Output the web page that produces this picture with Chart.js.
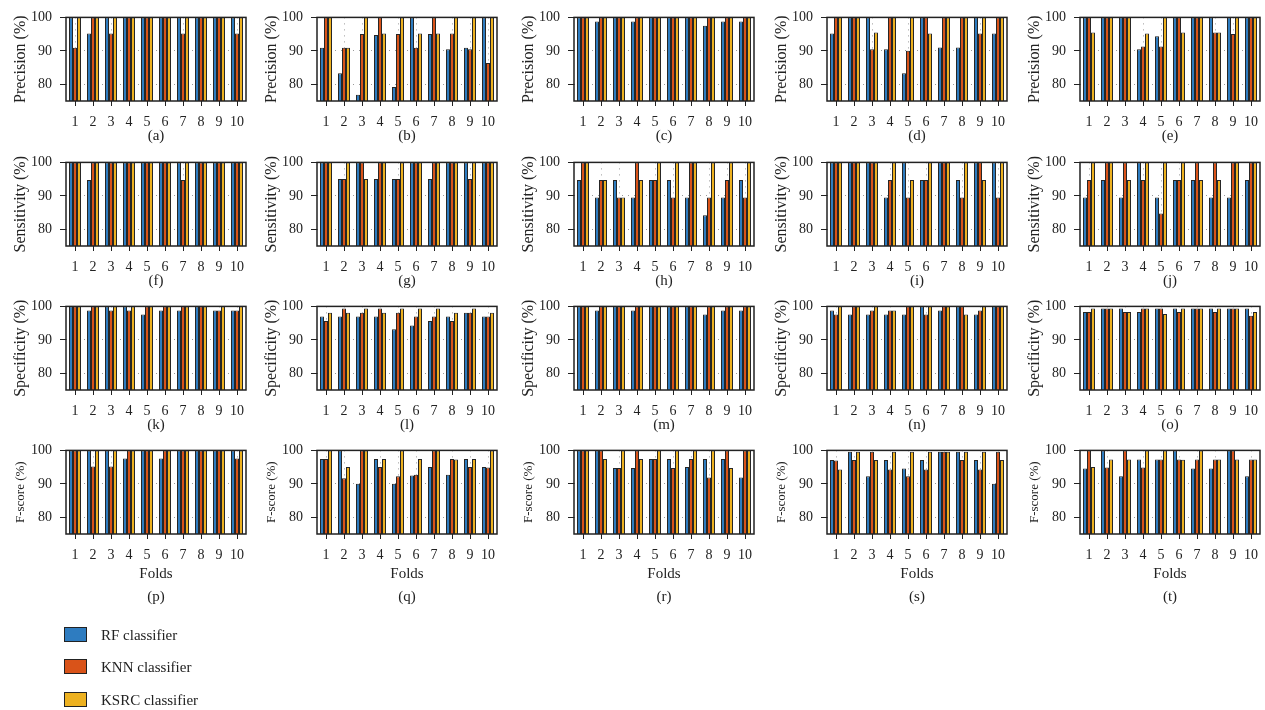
<!DOCTYPE html>
<html>
<head>
<meta charset="utf-8">
<script src="https://cdn.jsdelivr.net/npm/chart.js@4.4.1/dist/chart.umd.min.js"></script>
<style>
  body { margin: 0; background: #fff; width: 1265px; height: 710px; overflow: hidden; position: relative;
         font-family: 'Liberation Serif', 'Times New Roman', serif; }
  canvas.panel { position: absolute; }
  .legend-item { position: absolute; left: 64px; height: 18px; width: 220px; }
  .swatch { position: absolute; left: 0; top: 1px; width: 21px; height: 13px; border: 1.5px solid #222; }
  .legend-item span { position: absolute; left: 37px; top: 0; font-size: 15px; line-height: 18px; color: #222; white-space: nowrap; }
</style>
</head>
<body>
<script>
// Categories and series
const folds = ['1', '2', '3', '4', '5', '6', '7', '8', '9', '10'];
const classifiers = ['RF classifier', 'KNN classifier', 'KSRC classifier'];
const classifierColors = ['#2e7cc0', '#d95319', '#edb120'];
const metricTitles = ['Precision (%)', 'Sensitivity (%)', 'Specificity (%)', 'F-score (%)'];
const panelLetters = [
    ['(a)', '(b)', '(c)', '(d)', '(e)'],
    ['(f)', '(g)', '(h)', '(i)', '(j)'],
    ['(k)', '(l)', '(m)', '(n)', '(o)'],
    ['(p)', '(q)', '(r)', '(s)', '(t)']
];
const yTicks = [80, 90, 100];

// Precision, one row per column of panels
const precisionRF = [
    [100, 95.2, 100, 100, 100, 100, 100, 100, 100, 100],
    [90.9, 83.3, 76.9, 94.7, 79.2, 100, 95.0, 90.5, 90.9, 100],
    [100, 98.8, 100, 98.8, 100, 100, 100, 97.5, 98.8, 98.8],
    [95.2, 100, 100, 90.5, 83.3, 100, 91.0, 91.0, 100, 95.2],
    [100, 100, 100, 90.5, 94.4, 100, 100, 100, 100, 100]
];
const precisionKNN = [
    [90.9, 100, 95.2, 100, 100, 100, 95.2, 100, 100, 95.2],
    [100, 90.9, 95.0, 100, 95.0, 90.9, 100, 95.2, 90.5, 86.4],
    [100, 100, 100, 100, 100, 100, 100, 100, 100, 100],
    [100, 100, 90.5, 100, 90.0, 100, 100, 100, 95.2, 100],
    [100, 100, 100, 91.3, 91.3, 100, 100, 95.5, 95.0, 100]
];
const precisionKSRC = [
    [100, 100, 100, 100, 100, 100, 100, 100, 100, 100],
    [100, 90.9, 100, 95.2, 100, 95.2, 95.2, 100, 100, 100],
    [100, 100, 100, 100, 100, 100, 100, 100, 100, 100],
    [100, 100, 95.5, 100, 100, 95.2, 100, 100, 100, 100],
    [95.5, 100, 100, 95.2, 100, 95.5, 100, 95.5, 100, 100]
];

// Sensitivity
const sensitivityRF = [
    [100, 94.7, 100, 100, 100, 100, 100, 100, 100, 100],
    [100, 95.0, 100, 95.0, 95.0, 100, 95.0, 100, 100, 100],
    [94.7, 89.5, 94.7, 89.5, 94.7, 94.7, 89.5, 84.2, 89.5, 94.7],
    [100, 100, 100, 89.5, 100, 94.7, 100, 94.7, 100, 100],
    [89.5, 94.7, 89.5, 100, 89.5, 94.7, 94.7, 89.5, 89.5, 94.7]
];
const sensitivityKNN = [
    [100, 100, 100, 100, 100, 100, 94.7, 100, 100, 100],
    [100, 95.0, 100, 100, 95.0, 100, 100, 100, 95.0, 100],
    [100, 94.7, 89.5, 100, 94.7, 89.5, 100, 89.5, 94.7, 89.5],
    [100, 100, 100, 94.7, 89.5, 94.7, 100, 89.5, 100, 89.5],
    [94.7, 100, 100, 94.7, 84.7, 94.7, 100, 100, 100, 100]
];
const sensitivityKSRC = [
    [100, 100, 100, 100, 100, 100, 100, 100, 100, 100],
    [100, 100, 95.0, 100, 100, 100, 100, 100, 100, 100],
    [100, 94.7, 89.5, 94.7, 100, 100, 100, 100, 100, 100],
    [100, 100, 100, 100, 94.7, 100, 100, 100, 94.7, 100],
    [100, 100, 94.7, 100, 100, 100, 94.7, 94.7, 100, 100]
];

// Specificity
const specificityRF = [
    [100, 98.8, 100, 100, 97.6, 98.8, 98.8, 100, 98.8, 98.8],
    [97.0, 97.0, 97.0, 97.0, 93.2, 94.3, 95.6, 97.0, 98.1, 97.0],
    [100, 98.8, 100, 98.8, 100, 100, 100, 97.6, 98.8, 98.8],
    [98.8, 97.6, 97.6, 97.6, 97.6, 100, 98.8, 100, 97.6, 100],
    [98.3, 99.4, 99.4, 98.3, 99.4, 99.4, 99.4, 99.4, 99.4, 99.4]
];
const specificityKNN = [
    [100, 100, 98.8, 98.8, 100, 100, 100, 100, 98.8, 98.8],
    [95.6, 99.4, 98.1, 99.4, 98.1, 97.0, 97.0, 95.6, 98.1, 97.0],
    [100, 100, 100, 100, 100, 100, 100, 100, 100, 100],
    [97.6, 100, 98.8, 98.8, 100, 97.6, 100, 100, 98.8, 100],
    [98.3, 99.4, 98.3, 99.4, 99.4, 98.3, 99.4, 98.3, 99.4, 97.2]
];
const specificityKSRC = [
    [100, 100, 100, 100, 100, 100, 100, 100, 100, 100],
    [98.1, 98.1, 99.4, 98.1, 99.4, 99.4, 99.4, 98.1, 99.4, 98.1],
    [100, 100, 100, 100, 100, 100, 100, 100, 100, 100],
    [100, 100, 100, 98.8, 100, 100, 100, 97.6, 100, 100],
    [99.4, 99.4, 98.3, 99.4, 97.7, 99.4, 99.4, 99.4, 99.4, 98.3]
];

// F-score
const fscoreRF = [
    [100, 100, 100, 97.6, 100, 97.6, 100, 100, 100, 100],
    [97.4, 100, 90.0, 97.4, 90.0, 92.5, 95.0, 92.7, 97.4, 95.0],
    [100, 100, 94.7, 94.7, 97.4, 97.4, 95.0, 97.4, 97.4, 91.9],
    [97.1, 99.6, 92.3, 97.1, 94.6, 97.1, 99.6, 99.6, 97.1, 90.0],
    [94.6, 100, 92.3, 97.3, 97.3, 100, 94.6, 94.6, 100, 92.3]
];
const fscoreKNN = [
    [100, 95.2, 95.2, 100, 100, 100, 100, 100, 100, 97.6],
    [97.4, 91.7, 100, 95.0, 92.3, 92.7, 100, 97.4, 95.0, 94.9],
    [100, 100, 94.7, 100, 97.4, 94.7, 97.4, 91.9, 100, 100],
    [97.0, 97.1, 99.6, 94.3, 92.3, 94.3, 99.6, 97.1, 94.3, 99.6],
    [100, 94.9, 100, 94.9, 97.3, 97.3, 97.3, 97.3, 100, 97.3]
];
const fscoreKSRC = [
    [100, 100, 100, 100, 100, 100, 100, 100, 100, 100],
    [100, 95.0, 100, 97.4, 100, 97.4, 100, 97.3, 97.4, 100],
    [100, 97.4, 100, 97.4, 100, 100, 100, 100, 94.7, 100],
    [94.3, 99.6, 97.1, 99.6, 99.6, 99.6, 99.6, 99.6, 99.6, 97.1],
    [95.0, 97.3, 97.3, 100, 100, 97.2, 100, 97.3, 97.3, 97.3]
];

const metricRows = [
    [precisionRF, precisionKNN, precisionKSRC],
    [sensitivityRF, sensitivityKNN, sensitivityKSRC],
    [specificityRF, specificityKNN, specificityKSRC],
    [fscoreRF, fscoreKNN, fscoreKSRC]
];

// Layout of the grid (page pixels)
const colLeft = [66, 317, 574, 827, 1080];
const rowTop = [11, 156, 300, 444];
const plotW = 180, plotH = 90;
const axisW = 64, padTop = 10, padRight = 8;

Chart.defaults.font.family = "'Liberation Serif', 'Times New Roman', serif";
Chart.defaults.color = '#222';

// Box round each plot area, drawn over the bars
const framePlugin = {
    id: 'frame',
    afterDatasetsDraw(chart) {
        const { ctx, chartArea: a } = chart;
        ctx.save();
        ctx.strokeStyle = '#222';
        ctx.lineWidth = 1.5;
        ctx.strokeRect(a.left, a.top, a.right - a.left, a.bottom - a.top);
        ctx.restore();
    }
};

function makePanel(row, col) {
    const lastRow = row === 3;
    const xAxisH = lastRow ? 77 : 46;
    const canvas = document.createElement('canvas');
    canvas.className = 'panel';
    canvas.width = axisW + plotW + padRight;
    canvas.height = padTop + plotH + xAxisH;
    canvas.style.left = (colLeft[col] - axisW) + 'px';
    canvas.style.top = (rowTop[row] - padTop) + 'px';
    document.body.appendChild(canvas);

    const datasets = classifiers.map((name, k) => ({
        label: name,
        data: metricRows[row][k][col],
        backgroundColor: classifierColors[k],
        borderColor: '#262626',
        borderWidth: 1,
        barPercentage: 1.0,
        categoryPercentage: 2 / 3
    }));

    const letter = panelLetters[row][col];

    new Chart(canvas, {
        type: 'bar',
        data: { labels: folds, datasets: datasets },
        plugins: [framePlugin],
        options: {
            responsive: false,
            animation: false,
            events: [],
            layout: { padding: { top: padTop, right: padRight, left: 0, bottom: 0 } },
            plugins: { legend: { display: false }, tooltip: { enabled: false } },
            scales: {
                x: {
                    afterFit: s => { s.height = xAxisH; },
                    ticks: { autoSkip: false, maxRotation: 0, padding: lastRow ? 8 : 8, font: { size: 14 } },
                    grid: { offset: false, color: '#9a9a9a', tickColor: '#222', tickLength: 5 },
                    border: { display: false, dash: [1, 5] },
                    title: {
                        display: true,
                        text: lastRow ? ['Folds', letter] : letter,
                        font: { size: 15, lineHeight: lastRow ? 1.55 : 1.2 },
                        padding: { top: 0, bottom: 2 }
                    }
                },
                y: {
                    min: 75,
                    max: 100,
                    afterBuildTicks: s => { s.ticks = yTicks.map(v => ({ value: v })); },
                    afterFit: s => { s.width = axisW; },
                    ticks: { stepSize: 10, padding: 8, font: { size: 14 } },
                    grid: { color: '#9a9a9a', tickColor: '#222', tickLength: 6 },
                    border: { display: false, dash: [1, 5] },
                    title: {
                        display: true,
                        text: metricTitles[row],
                        font: { size: lastRow ? 13 : 16 },
                        padding: { top: lastRow ? 11 : 9, bottom: 0 }
                    }
                }
            }
        }
    });
}

for (let r = 0; r < 4; r++) {
    for (let c = 0; c < 5; c++) {
        makePanel(r, c);
    }
}

// Legend below the grid
const legendTops = [626, 658, 691];
classifiers.forEach((name, k) => {
    const item = document.createElement('div');
    item.className = 'legend-item';
    item.style.top = legendTops[k] + 'px';
    const swatch = document.createElement('div');
    swatch.className = 'swatch';
    swatch.style.background = classifierColors[k];
    const label = document.createElement('span');
    label.textContent = name;
    item.appendChild(swatch);
    item.appendChild(label);
    document.body.appendChild(item);
});
</script>
</body>
</html>
